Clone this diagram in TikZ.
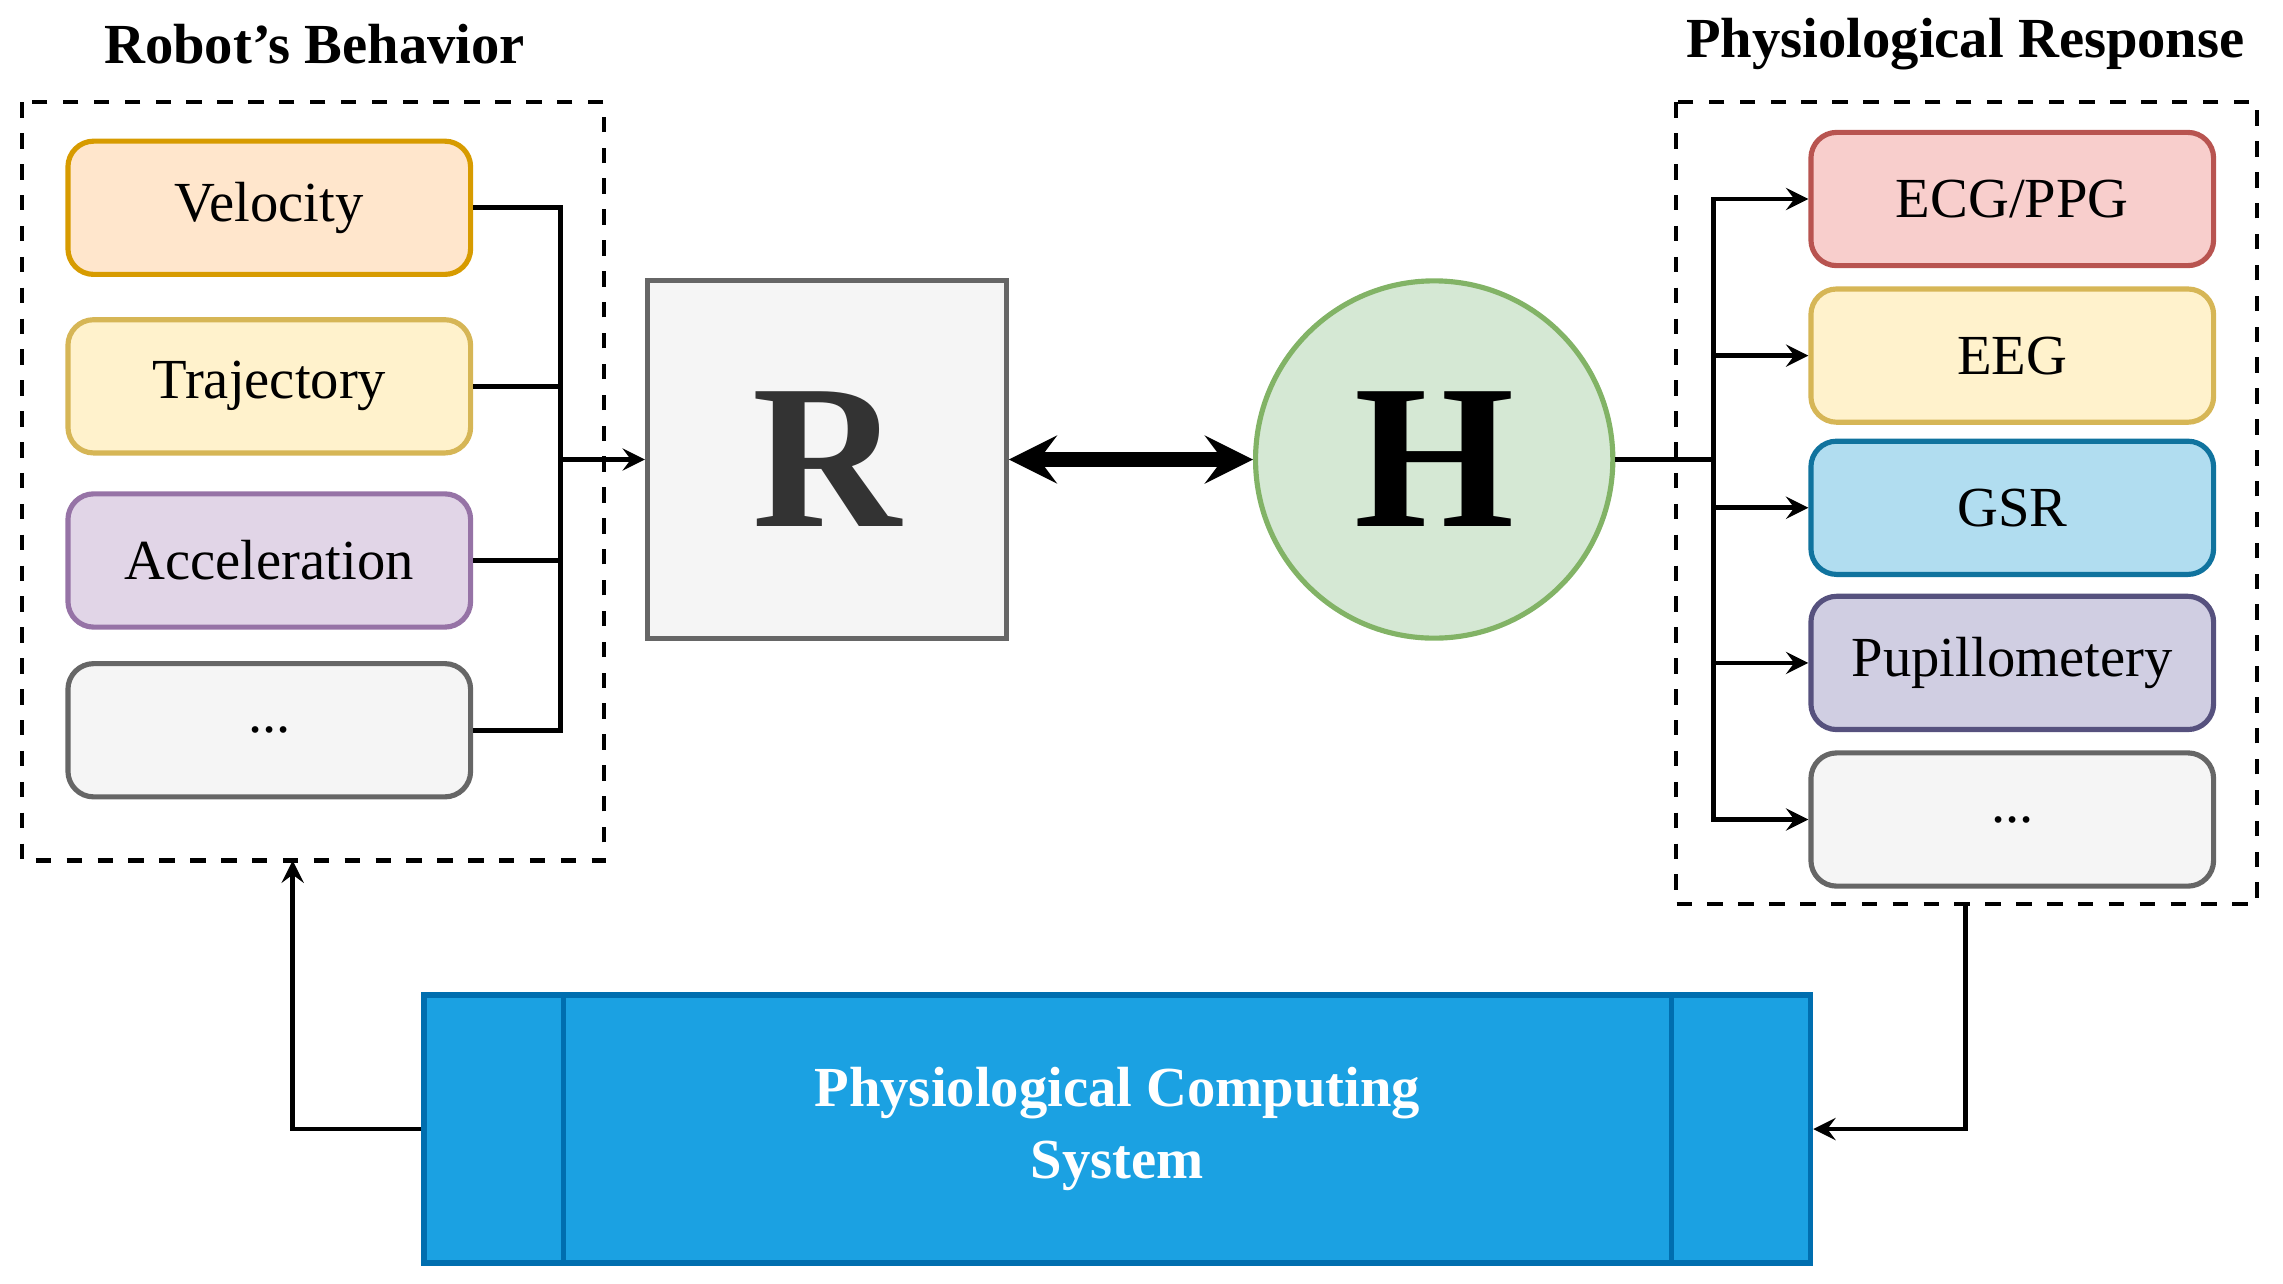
\documentclass[tikz,border=0pt]{standalone}
\usepackage{fontspec}
\setmainfont{Liberation Serif}
\usetikzlibrary{positioning,arrows}
\definecolor{velF}{HTML}{FFE6CC}\definecolor{velD}{HTML}{D79B00}
\definecolor{yelF}{HTML}{FFF2CC}\definecolor{yelD}{HTML}{D6B656}
\definecolor{purF}{HTML}{E1D5E7}\definecolor{purD}{HTML}{9673A6}
\definecolor{gryF}{HTML}{F5F5F5}\definecolor{gryD}{HTML}{666666}
\definecolor{redF}{HTML}{F8CECC}\definecolor{redD}{HTML}{B85450}
\definecolor{bluF}{HTML}{B1DDF0}\definecolor{bluD}{HTML}{10739E}
\definecolor{vioF}{HTML}{D0CEE2}\definecolor{vioD}{HTML}{56517E}
\definecolor{grnF}{HTML}{D5E8D4}\definecolor{grnD}{HTML}{82B366}
\definecolor{sysF}{HTML}{1BA1E2}\definecolor{sysD}{HTML}{006EAF}
\tikzstyle{arrow} = [->,>=stealth,line width=0.9pt]
\tikzstyle{item} = [draw,rounded corners=5pt,line width=1pt,minimum width=2.75cm,minimum height=0.91cm,font=\fontsize{11}{13}\selectfont]
\tikzstyle{title} = [font=\bfseries\fontsize{11}{13}\selectfont]
\begin{document}
\begin{tikzpicture}[x=0.01cm,y=-0.01cm]
      \useasboundingbox (0,0) rectangle (1560,877);
      \draw[dashed,line width=0.8pt](15,70)rectangle(413,588);
      \draw[dashed,line width=0.8pt](1145,70)rectangle(1542,618);
      \node[title](tl) at (215,30){Robot's Behavior};
      \node[title](tr) at (1343,30){Physiological Response};
      % behaviour items
      \node[item,fill=velF,draw=velD](vel) at (184,142){Velocity};
      \node[item,fill=yelF,draw=yelD](tra) at (184,264){Trajectory};
      \node[item,fill=purF,draw=purD](acc) at (184,383){Acceleration};
      \node[item,fill=gryF,draw=gryD](bd) at (184,499){...};
      % agents
      \node[draw=gryD,fill=gryF,line width=1pt,minimum size=2.45cm,text=black!80,font=\bfseries\fontsize{40}{40}\selectfont](R) at (565,314){R};
      \node[circle,draw=grnD,fill=grnF,line width=1pt,minimum size=2.44cm,font=\bfseries\fontsize{40}{40}\selectfont](H) at (980,314){H};
      % responses
      \node[item,fill=redF,draw=redD](ecg) at (1375,136){ECG/PPG};
      \node[item,fill=yelF,draw=yelD](eeg) at (1375,243){EEG};
      \node[item,fill=bluF,draw=bluD](gsr) at (1375,347){GSR};
      \node[item,fill=vioF,draw=vioD](pup) at (1375,453){Pupillometery};
      \node[item,fill=gryF,draw=gryD](rd) at (1375,560){...};
      % system
      \node[draw=sysD,fill=sysF,line width=1pt,minimum width=9.47cm,minimum height=1.83cm,text=white,align=center,font=\bfseries\fontsize{11}{14}\selectfont](sys) at (763.5,771.5){Physiological Computing\\System};
      \draw[sysD,line width=1pt](385,680)--(385,863)(1142,680)--(1142,863);
      % connectors
      \coordinate(lb) at (383,314);
      \draw[line width=0.9pt](vel.east)-|(lb)(tra.east)-|(lb)(acc.east)-|(lb)(bd.east)-|(lb);
      \draw[arrow](lb)--(R.west);
      \draw[<->,>=stealth,line width=3pt](R.east)--(H.west);
      \coordinate(rb) at (1171,314);
      \draw[line width=0.9pt](H.east)--(rb);
      \foreach \n in {ecg,eeg,gsr,pup,rd}{\draw[arrow](rb)|-(\n.west);}
      \coordinate(rbot) at (1343,618);
      \coordinate(lbot) at (200,588);
      \draw[arrow](rbot)|-(sys.east);
      \draw[arrow](sys.west)-|(lbot);
    \end{tikzpicture}
\end{document}
